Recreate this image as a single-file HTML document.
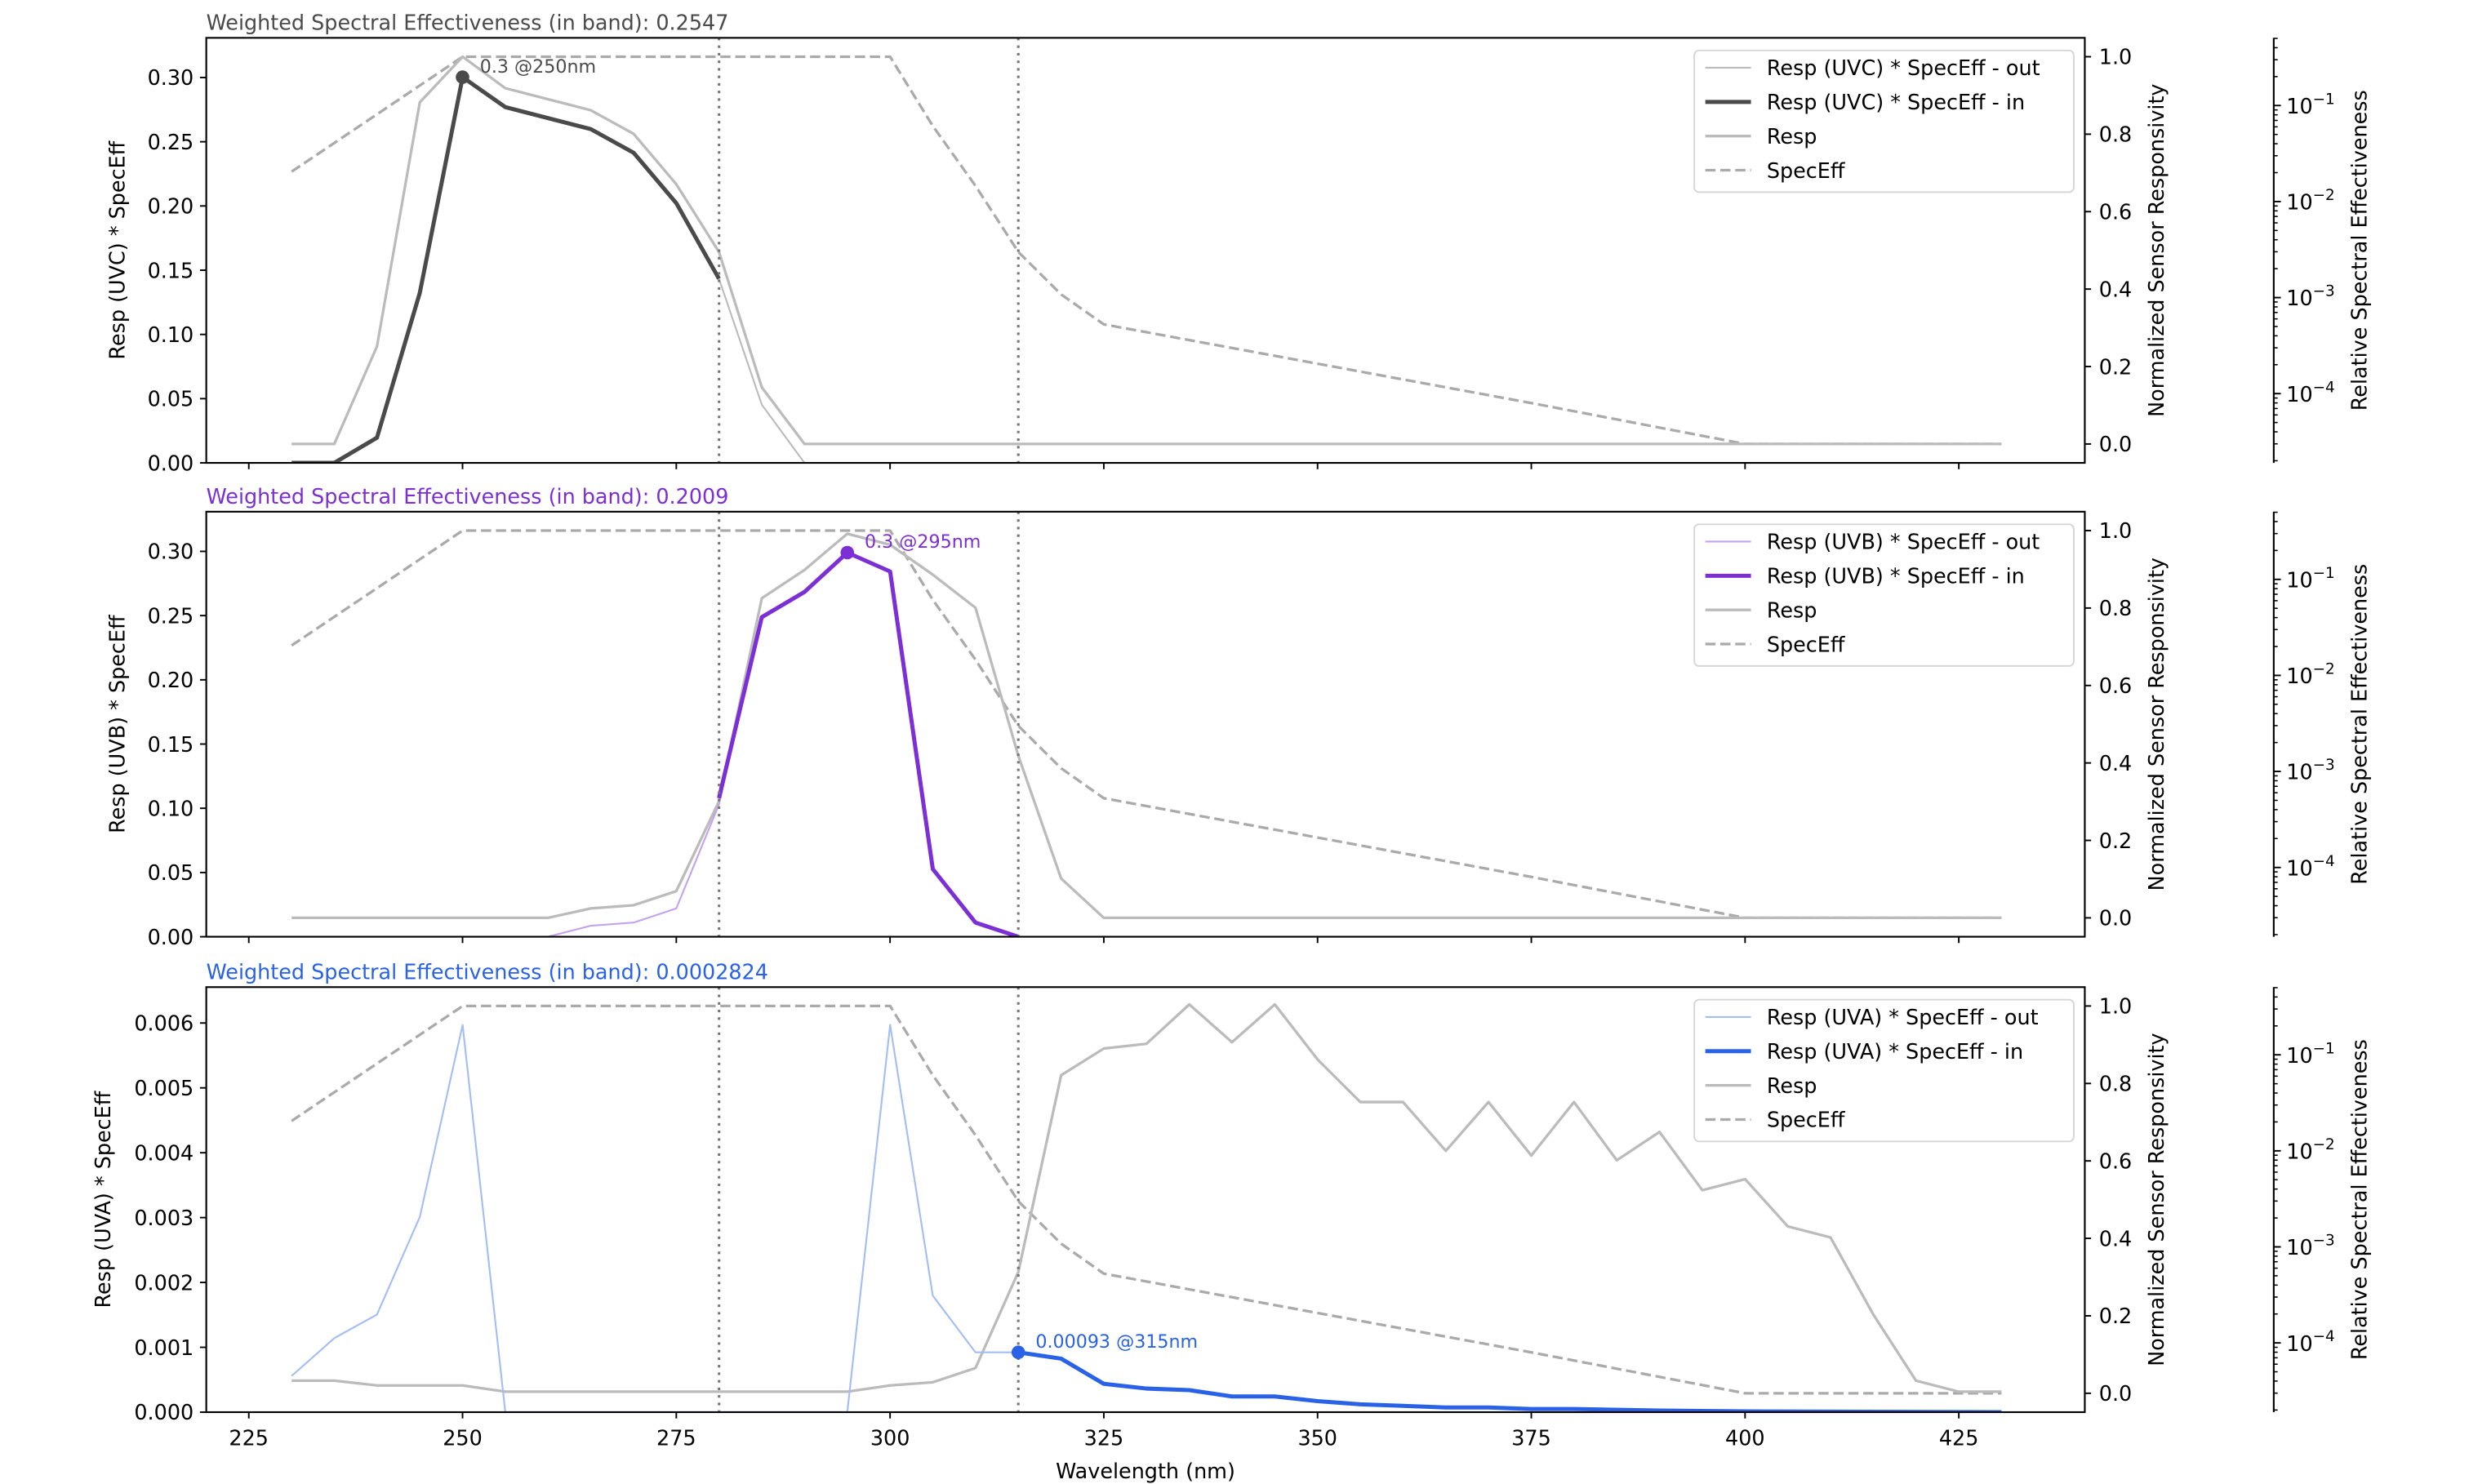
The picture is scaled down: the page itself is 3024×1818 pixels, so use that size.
<!DOCTYPE html>
<html><head><meta charset="utf-8"><style>html,body{margin:0;padding:0;background:#fff}svg{display:block}</style></head>
<body>
<svg id="s" xmlns="http://www.w3.org/2000/svg" width="3024" height="1818" viewBox="0 0 1568 942.6" font-family="DejaVu Sans, Liberation Sans, sans-serif"></svg>
<script>
const S=document.getElementById('s');let h='';
const X=l=>158+(l-225)*5.43;
const pts=(a,oy)=>a.map(p=>X(p[0]).toFixed(1)+','+(p[1]+oy).toFixed(1)).join(' ');
function pl(a,oy,st){h+=`<polyline fill="none" stroke-linejoin="round" points="${pts(a,oy)}" ${st}/>`;}
function tx(x,y,t,st){h+=`<text x="${x}" y="${y}" ${st||''}>${t}</text>`;}
const spec=[[230,109],[250,36],[300,36],[305,80],[310,118],[315,160],[320,187],[325,206],[350,231],[375,256],[400,282],[430,282]];
const panels=[
 {oy:0,c:'#4a4a4a',lc:'#bbbbbb',name:'UVC',title:'Weighted Spectral Effectiveness (in band): 0.2547',tc:'#4a4a4a',
  yt:[[0,'0.00'],[0.05,'0.05'],[0.1,'0.10'],[0.15,'0.15'],[0.2,'0.20'],[0.25,'0.25'],[0.3,'0.30']],ys:v=>294-v/0.05*40.8,ylx:75,
  resp:[[230,282],[235,282],[240,220],[245,65],[250,36],[255,56],[265,70],[270,85],[275,117],[280,160],[285,246],[290,282],[430,282]],
  out:[[280,177],[285,257],[290,294],[295,300]],
  inn:[[230,294],[235,294],[240,278],[245,186],[250,49],[255,68],[260,75],[265,82],[270,97],[275,129],[280,177]],
  mk:[250,49],ann:'0.3 @250nm'},
 {oy:301,c:'#7b2fd4',lc:'#c3a3ee',name:'UVB',title:'Weighted Spectral Effectiveness (in band): 0.2009',tc:'#7b2fd4',
  yt:[[0,'0.00'],[0.05,'0.05'],[0.1,'0.10'],[0.15,'0.15'],[0.2,'0.20'],[0.25,'0.25'],[0.3,'0.30']],ys:v=>294-v/0.05*40.8,ylx:75,
  resp:[[230,282],[260,282],[265,276],[270,274],[275,265],[280,208],[285,79],[290,61],[295,38],[300,45],[305,64],[310,85],[315,179],[320,257],[325,282],[430,282]],
  out:[[255,300],[260,294],[265,287],[270,285],[275,276],[280,210],[285,90]],
  inn:[[280,206],[285,91],[290,75],[295,50],[300,62],[305,251],[310,285],[315,294]],
  mk:[295,50],ann:'0.3 @295nm'},
 {oy:603,c:'#2962e6',lc:'#a4bdf2',name:'UVA',title:'Weighted Spectral Effectiveness (in band): 0.0002824',tc:'#2962e6',
  yt:[[0,'0.000'],[0.001,'0.001'],[0.002,'0.002'],[0.003,'0.003'],[0.004,'0.004'],[0.005,'0.005'],[0.006,'0.006']],ys:v=>294-v/0.001*41.2,ylx:66,
  resp:[[230,274],[235,274],[240,277],[250,277],[255,281],[295,281],[300,277],[305,275],[310,266],[315,205],[320,80],[325,63],[330,60],[335,35],[340,59],[345,35],[350,70],[355,97],[360,97],[365,128],[370,97],[375,131],[380,97],[385,134],[390,116],[395,153],[400,146],[405,176],[410,183],[415,232],[420,274],[425,281],[430,281]],
  out:[[230,271],[235,247],[240,232],[245,170],[250,48],[255,294],[295,294],[300,48],[305,220],[310,256],[315,256]],
  inn:[[315,256],[320,260],[325,276],[330,279],[335,280],[340,284],[345,284],[350,287],[355,289],[360,290],[365,291],[370,291],[375,292],[380,292],[390,293],[400,293.5],[430,294]],
  mk:[315,256],ann:'0.00093 @315nm'}];
panels.forEach((P,i)=>{const o=P.oy;
 h+=`<clipPath id="c${i}"><rect x="131" y="${24+o}" width="1193" height="270"/></clipPath>`;
 h+=`<g clip-path="url(#c${i})">`;
 pl(spec,o,'stroke="#aaaaaa" stroke-width="1.7" stroke-dasharray="6.5,3"');
 pl(P.resp,o,'stroke="#bbbbbb" stroke-width="1.7"');
 pl(P.out,o,`stroke="${P.lc}" stroke-width="1.1"`);
 pl(P.inn,o,`stroke="${P.c}" stroke-width="2.6"`);
 h+=`<line x1="${X(280)}" y1="${24+o}" x2="${X(280)}" y2="${294+o}" stroke="#777" stroke-width="1.6" stroke-dasharray="1.6,3.2"/>`;
 h+=`<line x1="${X(315)}" y1="${24+o}" x2="${X(315)}" y2="${294+o}" stroke="#777" stroke-width="1.6" stroke-dasharray="1.6,3.2"/>`;
 h+=`<circle cx="${X(P.mk[0])}" cy="${P.mk[1]+o}" r="4.3" fill="${P.c}"/>`;
 h+=`</g>`;
 tx(X(P.mk[0])+11,P.mk[1]+o-3,P.ann,`font-size="11.5" fill="${P.c}"`);
 h+=`<rect x="131" y="${24+o}" width="1193" height="270" fill="none" stroke="#000" stroke-width="1.1"/>`;
 tx(131,19+o,P.title,`font-size="13.2" fill="${P.tc}"`);
 for(const [v,l] of P.yt){const y=P.ys(v)+o;h+=`<line x1="127" y1="${y}" x2="131" y2="${y}" stroke="#000"/>`;tx(123,y+4.8,l,'font-size="13.2" text-anchor="end"');}
 h+=`<text transform="translate(${P.ylx+4},${159+o}) rotate(-90)" font-size="13.2" text-anchor="middle">Resp (${P.name}) * SpecEff</text>`;
 for(let l=225;l<=425;l+=25){h+=`<line x1="${X(l)}" y1="${294+o}" x2="${X(l)}" y2="${298+o}" stroke="#000"/>`;}
 for(let k=0;k<=5;k++){const v=k*0.2,y=282-v*246+o;h+=`<line x1="1324" y1="${y}" x2="1328" y2="${y}" stroke="#000"/>`;tx(1333,y+4.8,v.toFixed(1),'font-size="13.2"');}
 h+=`<text transform="translate(1374,${159+o}) rotate(-90)" font-size="13.2" text-anchor="middle">Normalized Sensor Responsivity</text>`;
 h+=`<line x1="1444" y1="${24+o}" x2="1444" y2="${294+o}" stroke="#000" stroke-width="1.1"/>`;
 const ly=e=>67+(-1-e)*61;
 for(let n=-5;n<=0;n++){for(let k=1;k<=9;k++){const e=n+Math.log10(k);const y=ly(e);if(y<24||y>294)continue;
   if(k==1){h+=`<line x1="1444" y1="${y+o}" x2="1448.5" y2="${y+o}" stroke="#000"/>`;h+=`<text x="1452" y="${y+o+5}" font-size="13.2">10<tspan dy="-6" font-size="9.5">−${-n}</tspan></text>`;}
   else h+=`<line x1="1444" y1="${y+o}" x2="1446.5" y2="${y+o}" stroke="#000" stroke-width="0.8"/>`;}}
 h+=`<text transform="translate(1503,${159+o}) rotate(-90)" font-size="13.2" text-anchor="middle">Relative Spectral Effectiveness</text>`;
 h+=`<rect x="1076" y="${32+o}" width="241" height="90" rx="3" fill="#fff" fill-opacity="0.8" stroke="#d6d6d6"/>`;
 const L=[[`Resp (${P.name}) * SpecEff - out`,`stroke="${P.lc}" stroke-width="1.1"`],[`Resp (${P.name}) * SpecEff - in`,`stroke="${P.c}" stroke-width="2.6"`],['Resp','stroke="#bbbbbb" stroke-width="1.7"'],['SpecEff','stroke="#aaaaaa" stroke-width="1.7" stroke-dasharray="6.5,3"']];
 L.forEach((e,j)=>{const y=43+j*21.7+o;h+=`<line x1="1083" y1="${y}" x2="1112" y2="${y}" ${e[1]}/>`;tx(1122,y+4.8,e[0],'font-size="13.2"');});
});
for(let l=225;l<=425;l+=25)tx(X(l),918,l,'font-size="13.2" text-anchor="middle"');
tx(727.5,939,'Wavelength (nm)','font-size="13.2" text-anchor="middle"');
S.innerHTML=h;
</script>
</body></html>
